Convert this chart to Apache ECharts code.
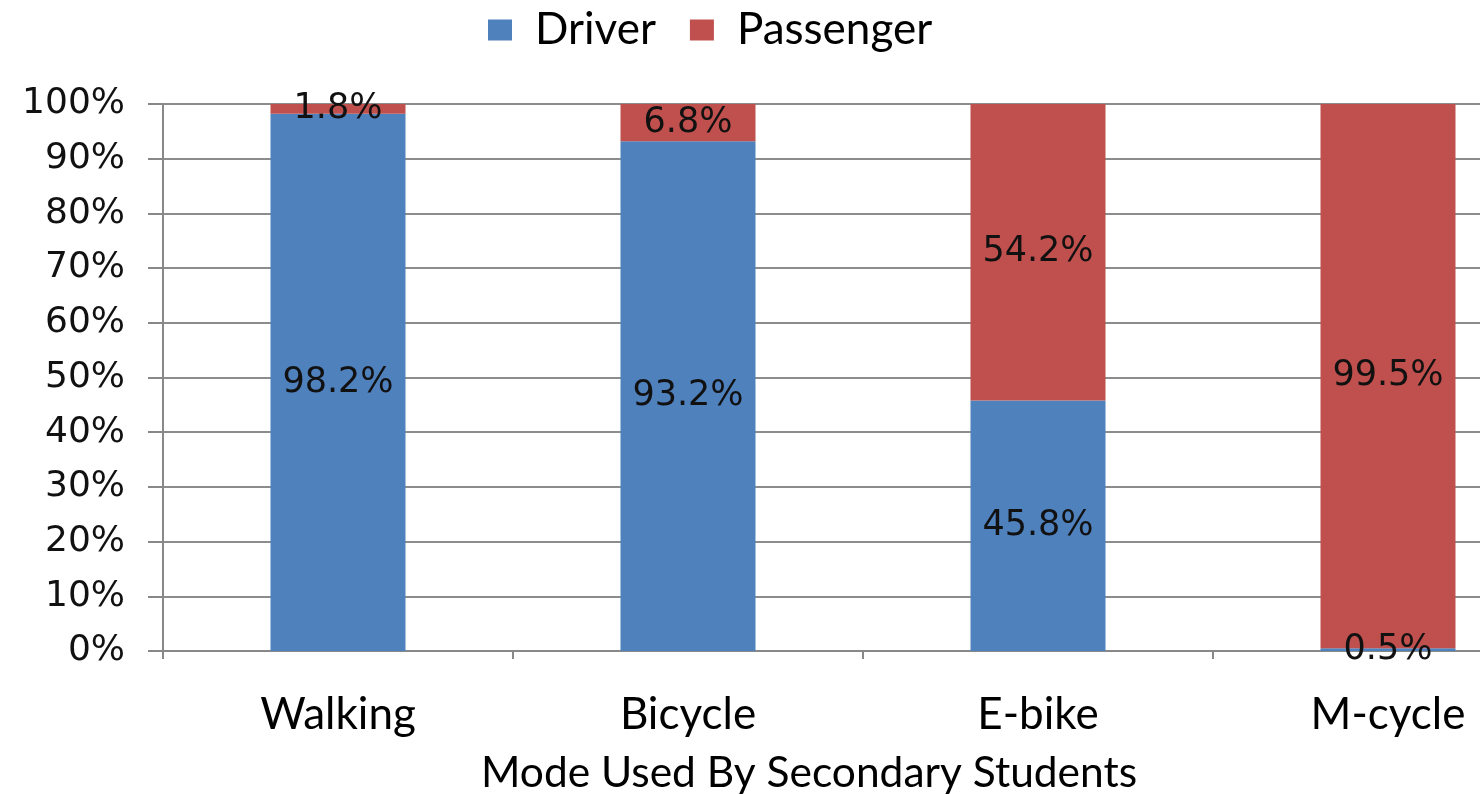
<!DOCTYPE html>
<html>
<head>
<meta charset="utf-8">
<script src="https://cdn.jsdelivr.net/npm/echarts@6/dist/echarts.min.js"></script>
<style>
  html, body { margin: 0; padding: 0; background: #fff; overflow: hidden; width: 1480px; height: 794px; }
  /* the plot continues past the right edge of the window; the last band is cut off */
  #chart { width: 1563px; height: 794px; }
</style>
</head>
<body>
<div id="chart"></div>
<script>
// Travel mode share by role (percent)
const modes = ['Walking', 'Bicycle', 'E-bike', 'M-cycle'];
const driverShare = [98.2, 93.2, 45.8, 0.5];
const passengerShare = [1.8, 6.8, 54.2, 99.5];
const yTicks = [0, 10, 20, 30, 40, 50, 60, 70, 80, 90, 100];

const chart = echarts.init(document.getElementById('chart'));

const valueLabel = {
  show: true,
  position: 'inside',
  formatter: p => p.value.toFixed(1) + '%',
  color: '#111',
  fontFamily: 'DejaVu Sans',
  fontSize: 35
};

chart.setOption({
  animation: false,
  backgroundColor: '#fff',
  legend: {
    top: 3,
    left: 483,
    itemWidth: 24,
    itemHeight: 21,
    itemGap: 34,
    icon: 'rect',
    textStyle: { fontFamily: 'Lato', fontSize: 44, color: '#000', padding: [0, 0, 0, 18] },
    data: ['Driver', 'Passenger']
  },
  grid: { left: 163, right: 0, top: 104, bottom: 143, containLabel: false },
  xAxis: {
    type: 'category',
    data: modes,
    axisLine: { lineStyle: { color: '#888', width: 2 } },
    axisTick: { show: true, length: 8, lineStyle: { color: '#888', width: 2 } },
    axisLabel: { fontFamily: 'Lato', fontSize: 44, color: '#000', margin: 42 },
    splitLine: { show: false }
  },
  yAxis: {
    type: 'value',
    min: yTicks[0],
    max: yTicks[yTicks.length - 1],
    interval: 10,
    axisLine: { show: true, lineStyle: { color: '#888', width: 2 } },
    axisTick: { show: true, length: 15, lineStyle: { color: '#888', width: 2 } },
    axisLabel: {
      formatter: '{value}%',
      fontFamily: 'DejaVu Sans',
      fontSize: 36,
      color: '#111',
      margin: 38
    },
    splitLine: { show: true, lineStyle: { color: '#8c8c8c', width: 2 } }
  },
  graphic: [{
    type: 'text',
    left: 481,
    top: 752,
    style: {
      text: 'Mode Used By Secondary Students',
      fontFamily: 'Lato',
      fontSize: 42.5,
      fill: '#000'
    }
  }],
  series: [
    {
      name: 'Driver',
      type: 'bar',
      stack: 'share',
      barWidth: 135,
      data: driverShare,
      itemStyle: { color: '#4f81bd' },
      label: valueLabel
    },
    {
      name: 'Passenger',
      type: 'bar',
      stack: 'share',
      barWidth: 135,
      data: passengerShare,
      itemStyle: { color: '#c0504d' },
      label: valueLabel
    }
  ]
});
</script>
</body>
</html>
